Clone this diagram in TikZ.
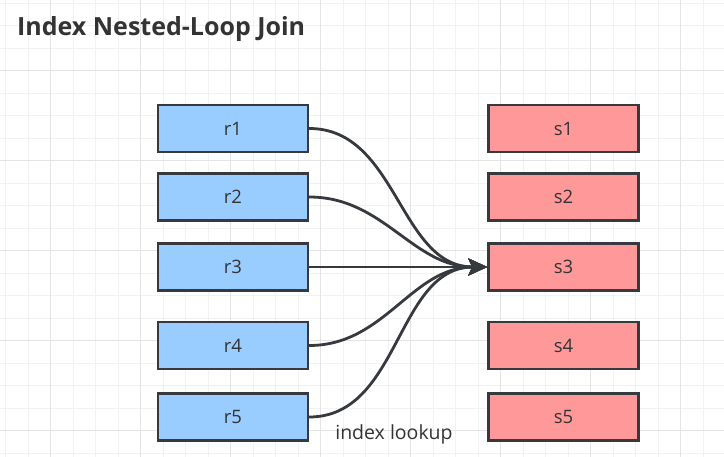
\documentclass[tikz,border=0pt]{standalone}
\usepackage{fontspec}
\setmainfont{Open Sans}
\usetikzlibrary{arrows.meta}
\definecolor{gridminor}{HTML}{F2F2F2}
\definecolor{gridmajor}{HTML}{E4E4E4}
\definecolor{rfill}{HTML}{99CCFF}
\definecolor{sfill}{HTML}{FF9999}
\definecolor{edge}{HTML}{36393D}
\definecolor{txt}{HTML}{333333}
\tikzset{
  rbox/.style={draw=edge, line width=2.4pt, fill=rfill, minimum width=150pt, minimum height=47pt, inner sep=0pt, text=txt, font=\fontsize{18.5}{22}\selectfont},
  sbox/.style={rbox, fill=sfill},
  conn/.style={draw=edge, line width=2.8pt, -{Stealth[length=19pt,width=17pt,inset=4pt]}},
}
\begin{document}
\begin{tikzpicture}[x=1pt,y=-1pt]
\useasboundingbox (0,0) rectangle (724,457);
\fill[white] (0,0) rectangle (724,457);
\foreach \i in {0,...,32} {\draw[gridminor, line width=0.8pt] ({5.7+22.5*\i},0) -- ({5.7+22.5*\i},457);}
\foreach \i in {0,...,20} {\draw[gridminor, line width=0.8pt] (0,{3.2+22.5*\i}) -- (724,{3.2+22.5*\i});}
\foreach \i in {0,...,7} {\draw[gridmajor, line width=0.8pt] ({50.7+90*\i},0) -- ({50.7+90*\i},457);}
\foreach \i in {0,...,4} {\draw[gridmajor, line width=0.8pt] (0,{70.7+90*\i}) -- (724,{70.7+90*\i});}
\node[anchor=base west, inner sep=0pt, text=txt, font=\bfseries\fontsize{25}{30}\selectfont] (title) at (17,36) {Index Nested-Loop Join};
\node[rbox] (r1) at (233,128.5) {r1};
\node[rbox] (r2) at (233,197) {r2};
\node[rbox] (r3) at (233,267) {r3};
\node[rbox] (r4) at (233,345.5) {r4};
\node[rbox] (r5) at (233,417) {r5};
\node[sbox] (s1) at (563.5,128.5) {s1};
\node[sbox] (s2) at (563.5,197) {s2};
\node[sbox] (s3) at (563.5,267) {s3};
\node[sbox] (s4) at (563.5,345.5) {s4};
\node[sbox] (s5) at (563.5,417) {s5};
\foreach \r in {r1,r2,r3,r4,r5} {\draw[conn] (\r.east) to[out=0,in=180] (s3.west);}
\node[anchor=base, inner sep=0pt, text=txt, font=\fontsize{19.5}{23}\selectfont] (lbl) at (394,440) {index lookup};
\end{tikzpicture}
\end{document}
